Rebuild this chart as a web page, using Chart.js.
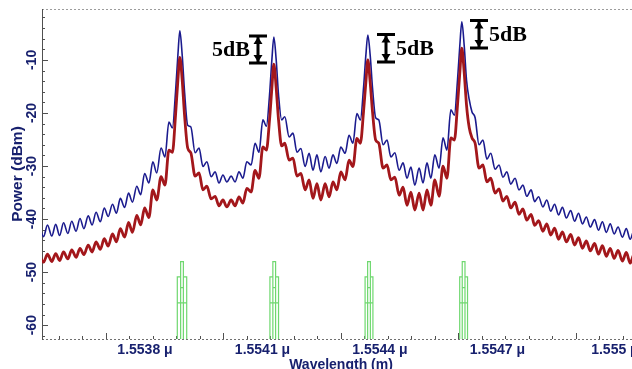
<!DOCTYPE html>
<html>
<head>
<meta charset="utf-8">
<script src="https://cdn.jsdelivr.net/npm/chart.js@4.4.0/dist/chart.umd.min.js"></script>
<style>
html, body { margin: 0; padding: 0; background: #fff; overflow: hidden; width: 632px; height: 369px; }
#wrap { position: relative; width: 650px; height: 380px; }
</style>
</head>
<body>
<div id="wrap"><canvas id="spectrum" width="650" height="380"></canvas></div>
<script>
// wavelength in nm, power in dBm (ripple crests / troughs)
var wavelength = [
  1553.530,1553.541,1553.551,1553.562,1553.572,1553.582,1553.592,1553.603,1553.613,1553.624,
  1553.634,1553.644,1553.655,1553.665,1553.675,1553.686,1553.696,1553.706,1553.717,1553.727,
  1553.737,1553.748,1553.758,1553.768,1553.779,1553.789,1553.799,1553.810,1553.820,1553.830,
  1553.841,1553.851,1553.861,1553.870,1553.878,1553.884,1553.889,1553.895,1553.901,1553.909,
  1553.917,1553.928,1553.938,1553.948,1553.958,1553.969,1553.979,1553.989,1553.999,1554.009,
  1554.020,1554.030,1554.040,1554.050,1554.060,1554.071,1554.081,1554.091,1554.101,1554.110,
  1554.118,1554.124,1554.129,1554.135,1554.141,1554.149,1554.157,1554.168,1554.178,1554.188,
  1554.198,1554.209,1554.219,1554.229,1554.239,1554.249,1554.260,1554.270,1554.280,1554.290,
  1554.300,1554.311,1554.321,1554.331,1554.341,1554.350,1554.358,1554.364,1554.369,1554.375,
  1554.381,1554.389,1554.397,1554.408,1554.418,1554.428,1554.438,1554.449,1554.459,1554.469,
  1554.479,1554.489,1554.500,1554.510,1554.520,1554.530,1554.540,1554.551,1554.561,1554.571,
  1554.581,1554.590,1554.598,1554.604,1554.609,1554.615,1554.621,1554.628,1554.635,1554.643,
  1554.653,1554.663,1554.673,1554.683,1554.694,1554.704,1554.714,1554.724,1554.734,1554.745,
  1554.755,1554.765,1554.775,1554.786,1554.795,1554.805,1554.816,1554.826,1554.836,1554.846,
  1554.856,1554.866,1554.876,1554.887,1554.897,1554.907,1554.917,1554.927,1554.937,1554.948,
  1554.958,1554.968,1554.978,1554.988,1554.998,1555.008,1555.019,1555.029,1555.039,1555.049,
  1555.059,1555.069
];

var powerBlue = [
  -41.2,-43.3,-41.1,-43.2,-41.0,-43.1,-40.7,-42.7,-40.4,-42.3,
  -39.9,-41.8,-39.4,-41.1,-38.7,-40.5,-37.9,-39.5,-37.2,-38.9,
  -36.1,-37.8,-35.1,-36.8,-33.8,-35.4,-31.4,-33.2,-29.2,-31.3,
  -26.6,-28.3,-21.7,-22.8,-16.0,-9.1,-4.5,-9.1,-16.0,-22.3,
  -22.6,-27.5,-26.6,-30.1,-29.2,-32.0,-31.1,-33.2,-31.7,-33.0,
  -31.9,-33.0,-31.1,-32.3,-29.2,-29.8,-25.7,-27.4,-21.3,-22.5,
  -16.6,-10.0,-5.7,-10.0,-16.6,-21.3,-20.7,-24.5,-23.8,-27.4,
  -26.7,-30.1,-27.6,-30.8,-27.9,-31.1,-28.2,-30.4,-27.9,-29.5,
  -26.4,-27.6,-24.2,-25.7,-20.1,-21.3,-15.3,-9.1,-5.3,-9.1,
  -15.3,-20.9,-21.3,-26.0,-25.1,-28.3,-27.5,-30.8,-29.4,-32.3,
  -30.2,-33.6,-30.4,-33.2,-29.4,-32.3,-27.9,-30.4,-24.7,-27.0,
  -19.4,-20.4,-13.8,-7.2,-2.8,-7.2,-13.8,-17.5,-19.8,-20.9,
  -26.0,-25.1,-28.7,-27.6,-30.6,-29.8,-32.1,-31.1,-33.4,-32.3,
  -34.5,-33.6,-35.7,-34.5,-36.7,-35.8,-37.7,-36.4,-38.5,-37.2,
  -39.2,-37.8,-39.8,-38.4,-40.4,-38.9,-40.9,-39.6,-41.5,-40.1,
  -42.1,-40.5,-42.5,-40.9,-42.8,-41.5,-43.4,-41.8,-43.8,-42.1,
  -44.2,-42.5
];

var powerRed = [
  -46.7,-48.1,-46.6,-48.0,-46.5,-47.8,-46.2,-47.5,-45.8,-47.2,
  -45.5,-46.7,-44.9,-46.2,-44.3,-45.7,-43.7,-45.1,-42.8,-44.3,
  -41.8,-43.4,-40.6,-42.5,-39.3,-41.1,-37.9,-39.7,-34.5,-36.4,
  -32.0,-33.6,-27.0,-27.4,-20.4,-13.8,-9.5,-13.8,-20.4,-26.6,
  -27.5,-31.9,-31.3,-34.5,-33.8,-36.2,-35.7,-37.5,-36.4,-37.7,
  -36.4,-37.5,-35.8,-37.0,-34.2,-34.9,-30.8,-32.3,-26.4,-27.0,
  -21.3,-15.3,-10.8,-15.3,-21.3,-26.2,-25.7,-28.9,-28.5,-31.9,
  -31.4,-34.5,-32.6,-36.1,-33.3,-36.4,-33.3,-35.8,-33.0,-34.5,
  -31.1,-32.6,-28.9,-30.1,-24.8,-25.7,-19.8,-14.2,-10.0,-14.2,
  -19.8,-25.1,-25.7,-30.4,-29.8,-32.6,-32.1,-35.5,-34.0,-37.4,
  -34.9,-38.3,-35.1,-38.3,-34.5,-37.4,-32.6,-35.7,-30.0,-32.3,
  -24.7,-25.1,-18.5,-12.3,-7.8,-12.3,-18.5,-22.8,-24.7,-25.7,
  -30.4,-29.8,-33.0,-32.3,-35.1,-34.3,-36.6,-35.7,-37.9,-36.8,
  -39.1,-38.1,-40.2,-39.1,-41.2,-40.3,-42.3,-40.9,-43.0,-41.7,
  -43.8,-42.4,-44.3,-42.9,-44.9,-43.5,-45.5,-44.1,-46.0,-44.6,
  -46.6,-45.0,-47.0,-45.5,-47.4,-45.9,-47.9,-46.3,-48.3,-46.6,
  -48.7,-47.0
];

// input carriers (green boxes)
var inputCenter = [1553.8945, 1554.1300, 1554.3720, 1554.6136];
var inputOuterSpan = [0.024, 0.022, 0.020, 0.020];
var inputInnerSpan = [0.007, 0.007, 0.007, 0.007];
var inputTop = -48.0;
var inputShoulder = -50.9;
var inputInnerMarks = [-52.9, -55.8];

// 5 dB markers
var gapWavelength = [1554.0885, 1554.4148, 1554.6527];
var gapTop = [-5.47, -5.19, -2.55];
var gapBottom = [-10.57, -10.38, -7.74];
var gapLabel = ['5dB', '5dB', '5dB'];
var gapSide = ['left', 'right', 'right'];

var xTicks = [1553.8, 1554.1, 1554.4, 1554.7, 1555.0];
var yTicks = [-60, -50, -40, -30, -20, -10];

var xMin = 1553.537, xMax = 1555.064;
var yMin = -62.6, yMax = -0.4;

var navy = '#17206e';
Chart.defaults.font.family = "'Liberation Sans', Arial, sans-serif";

function toPoints(xs, ys) {
    return xs.map(function(x, i){ return {x: x, y: ys[i]}; });
}

function buildInput() {
    var pts = [];
    for (var i = 0; i < inputCenter.length; i++) {
        var c = inputCenter[i], wo = inputOuterSpan[i] / 2, wi = inputInnerSpan[i] / 2;
        pts.push({x: c - wo, y: yMin}, {x: c - wo, y: inputShoulder}, {x: c - wi, y: inputShoulder},
                 {x: c - wi, y: inputTop}, {x: c + wi, y: inputTop}, {x: c + wi, y: inputShoulder},
                 {x: c + wo, y: inputShoulder}, {x: c + wo, y: yMin}, {x: c + wo, y: null});
        pts.push({x: c - wi, y: inputShoulder}, {x: c - wi, y: yMin}, {x: c - wi, y: null});
        pts.push({x: c + wi, y: inputShoulder}, {x: c + wi, y: yMin}, {x: c + wi, y: null});
        pts.push({x: c - wi, y: inputInnerMarks[0]}, {x: c + wi, y: inputInnerMarks[0]}, {x: c + wi, y: null});
        pts.push({x: c - wo, y: inputInnerMarks[1]}, {x: c + wo, y: inputInnerMarks[1]}, {x: c + wo, y: null});
    }
    return pts;
}

function drawTicks(ctx, scale, step, len, vertical, area) {
    var first = Math.ceil(scale.min / step - 1e-9);
    for (var k = first; k * step <= scale.max + 1e-9; k++) {
        var p = Math.round(scale.getPixelForValue(k * step)) + 0.5;
        ctx.beginPath();
        if (vertical) { ctx.moveTo(area.left, p); ctx.lineTo(area.left + len, p); }
        else { ctx.moveTo(p, area.bottom); ctx.lineTo(p, area.bottom - len); }
        ctx.stroke();
    }
}

var framePlugin = {
    id: 'frame',
    beforeDatasetsDraw: function(chart) {
        var ctx = chart.ctx, a = chart.chartArea;
        ctx.save();
        ctx.lineWidth = 1;
        ctx.strokeStyle = '#9c9c9c';
        ctx.setLineDash([2, 2]);
        ctx.beginPath(); ctx.moveTo(a.left, a.top + 0.5); ctx.lineTo(a.right, a.top + 0.5); ctx.stroke();
        ctx.strokeStyle = '#707070';
        ctx.beginPath(); ctx.moveTo(a.left, a.bottom + 0.5); ctx.lineTo(a.right, a.bottom + 0.5); ctx.stroke();
        ctx.setLineDash([]);
        ctx.strokeStyle = '#505050';
        ctx.beginPath(); ctx.moveTo(a.left + 0.5, a.top); ctx.lineTo(a.left + 0.5, a.bottom + 1); ctx.stroke();
        drawTicks(ctx, chart.scales.y, 2, 3, true, a);
        drawTicks(ctx, chart.scales.y, 10, 6, true, a);
        drawTicks(ctx, chart.scales.x, 0.06, 3, false, a);
        drawTicks(ctx, chart.scales.x, 0.3, 6, false, a);
        ctx.restore();
    }
};

var gapPlugin = {
    id: 'gapMarks',
    afterDatasetsDraw: function(chart) {
        var ctx = chart.ctx, xs = chart.scales.x, ys = chart.scales.y;
        ctx.save();
        ctx.strokeStyle = '#000';
        ctx.fillStyle = '#000';
        for (var i = 0; i < gapWavelength.length; i++) {
            var px = Math.round(xs.getPixelForValue(gapWavelength[i]));
            var top = ys.getPixelForValue(gapTop[i]);
            var bot = ys.getPixelForValue(gapBottom[i]);
            ctx.lineWidth = 3;
            ctx.beginPath();
            ctx.moveTo(px - 9, top); ctx.lineTo(px + 9, top);
            ctx.moveTo(px - 9, bot); ctx.lineTo(px + 9, bot);
            ctx.moveTo(px, top); ctx.lineTo(px, bot);
            ctx.stroke();
            ctx.beginPath();
            ctx.moveTo(px - 4.5, top + 8); ctx.lineTo(px, top + 1); ctx.lineTo(px + 4.5, top + 8); ctx.closePath();
            ctx.moveTo(px - 4.5, bot - 8); ctx.lineTo(px, bot - 1); ctx.lineTo(px + 4.5, bot - 8); ctx.closePath();
            ctx.fill();
            ctx.font = 'bold 22px "Liberation Serif", "Times New Roman", serif';
            ctx.textBaseline = 'middle';
            var ty = (top + bot) / 2 + 1;
            if (gapSide[i] === 'left') { ctx.textAlign = 'right'; ctx.fillText(gapLabel[i], px - 8, ty); }
            else { ctx.textAlign = 'left'; ctx.fillText(gapLabel[i], px + 10, ty); }
        }
        ctx.restore();
    }
};

var tickFont = {family: "'Liberation Sans', Arial, sans-serif", weight: 'bold', size: 14};

var chart = new Chart(document.getElementById('spectrum'), {
    type: 'line',
    data: {
        datasets: [
            { label: 'output 2', data: toPoints(wavelength, powerRed), borderColor: '#a3171b', borderWidth: 2.8,
              pointRadius: 0, cubicInterpolationMode: 'monotone', order: 1 },
            { label: 'output 1', data: toPoints(wavelength, powerBlue), borderColor: '#1b1b8e', borderWidth: 1.6,
              pointRadius: 0, cubicInterpolationMode: 'monotone', order: 2 },
            { label: 'input', data: buildInput(), borderColor: '#6fd86f', borderWidth: 1.2,
              pointRadius: 0, tension: 0, spanGaps: false, order: 3 }
        ]
    },
    options: {
        responsive: false,
        animation: false,
        devicePixelRatio: 1,
        layout: { padding: { left: 0, top: 9, right: 10, bottom: 0 } },
        plugins: { legend: { display: false }, tooltip: { enabled: false } },
        scales: {
            x: {
                type: 'linear', min: xMin, max: xMax,
                grid: { display: false, drawTicks: false },
                border: { display: false },
                afterBuildTicks: function(s){ s.ticks = xTicks.map(function(v){ return {value: v}; }); },
                afterFit: function(s){ s.height = 41; },
                ticks: {
                    autoSkip: false, maxRotation: 0, padding: 3, color: navy, font: tickFont,
                    callback: function(v){ return Number((v / 1000).toFixed(4)) + ' \u03bc'; }
                },
                title: { display: true, text: 'Wavelength (m)', color: navy, font: tickFont, padding: { top: 0, bottom: 6 } }
            },
            y: {
                min: yMin, max: yMax,
                grid: { display: false, drawTicks: false },
                border: { display: false },
                afterBuildTicks: function(s){ s.ticks = yTicks.map(function(v){ return {value: v}; }); },
                afterFit: function(s){ s.width = 42; },
                ticks: {
                    minRotation: 90, maxRotation: 90, crossAlign: 'center', padding: 0, color: navy,
                    font: {family: "'Liberation Sans', Arial, sans-serif", weight: 'bold', size: 14},
                    callback: function(v){ return String(v); }
                },
                title: { display: true, text: 'Power (dBm)', color: navy,
                         font: {family: "'Liberation Sans', Arial, sans-serif", weight: 'bold', size: 15.5},
                         padding: { top: 8, bottom: 0 } }
            }
        }
    },
    plugins: [framePlugin, gapPlugin]
});
</script>
</body>
</html>
